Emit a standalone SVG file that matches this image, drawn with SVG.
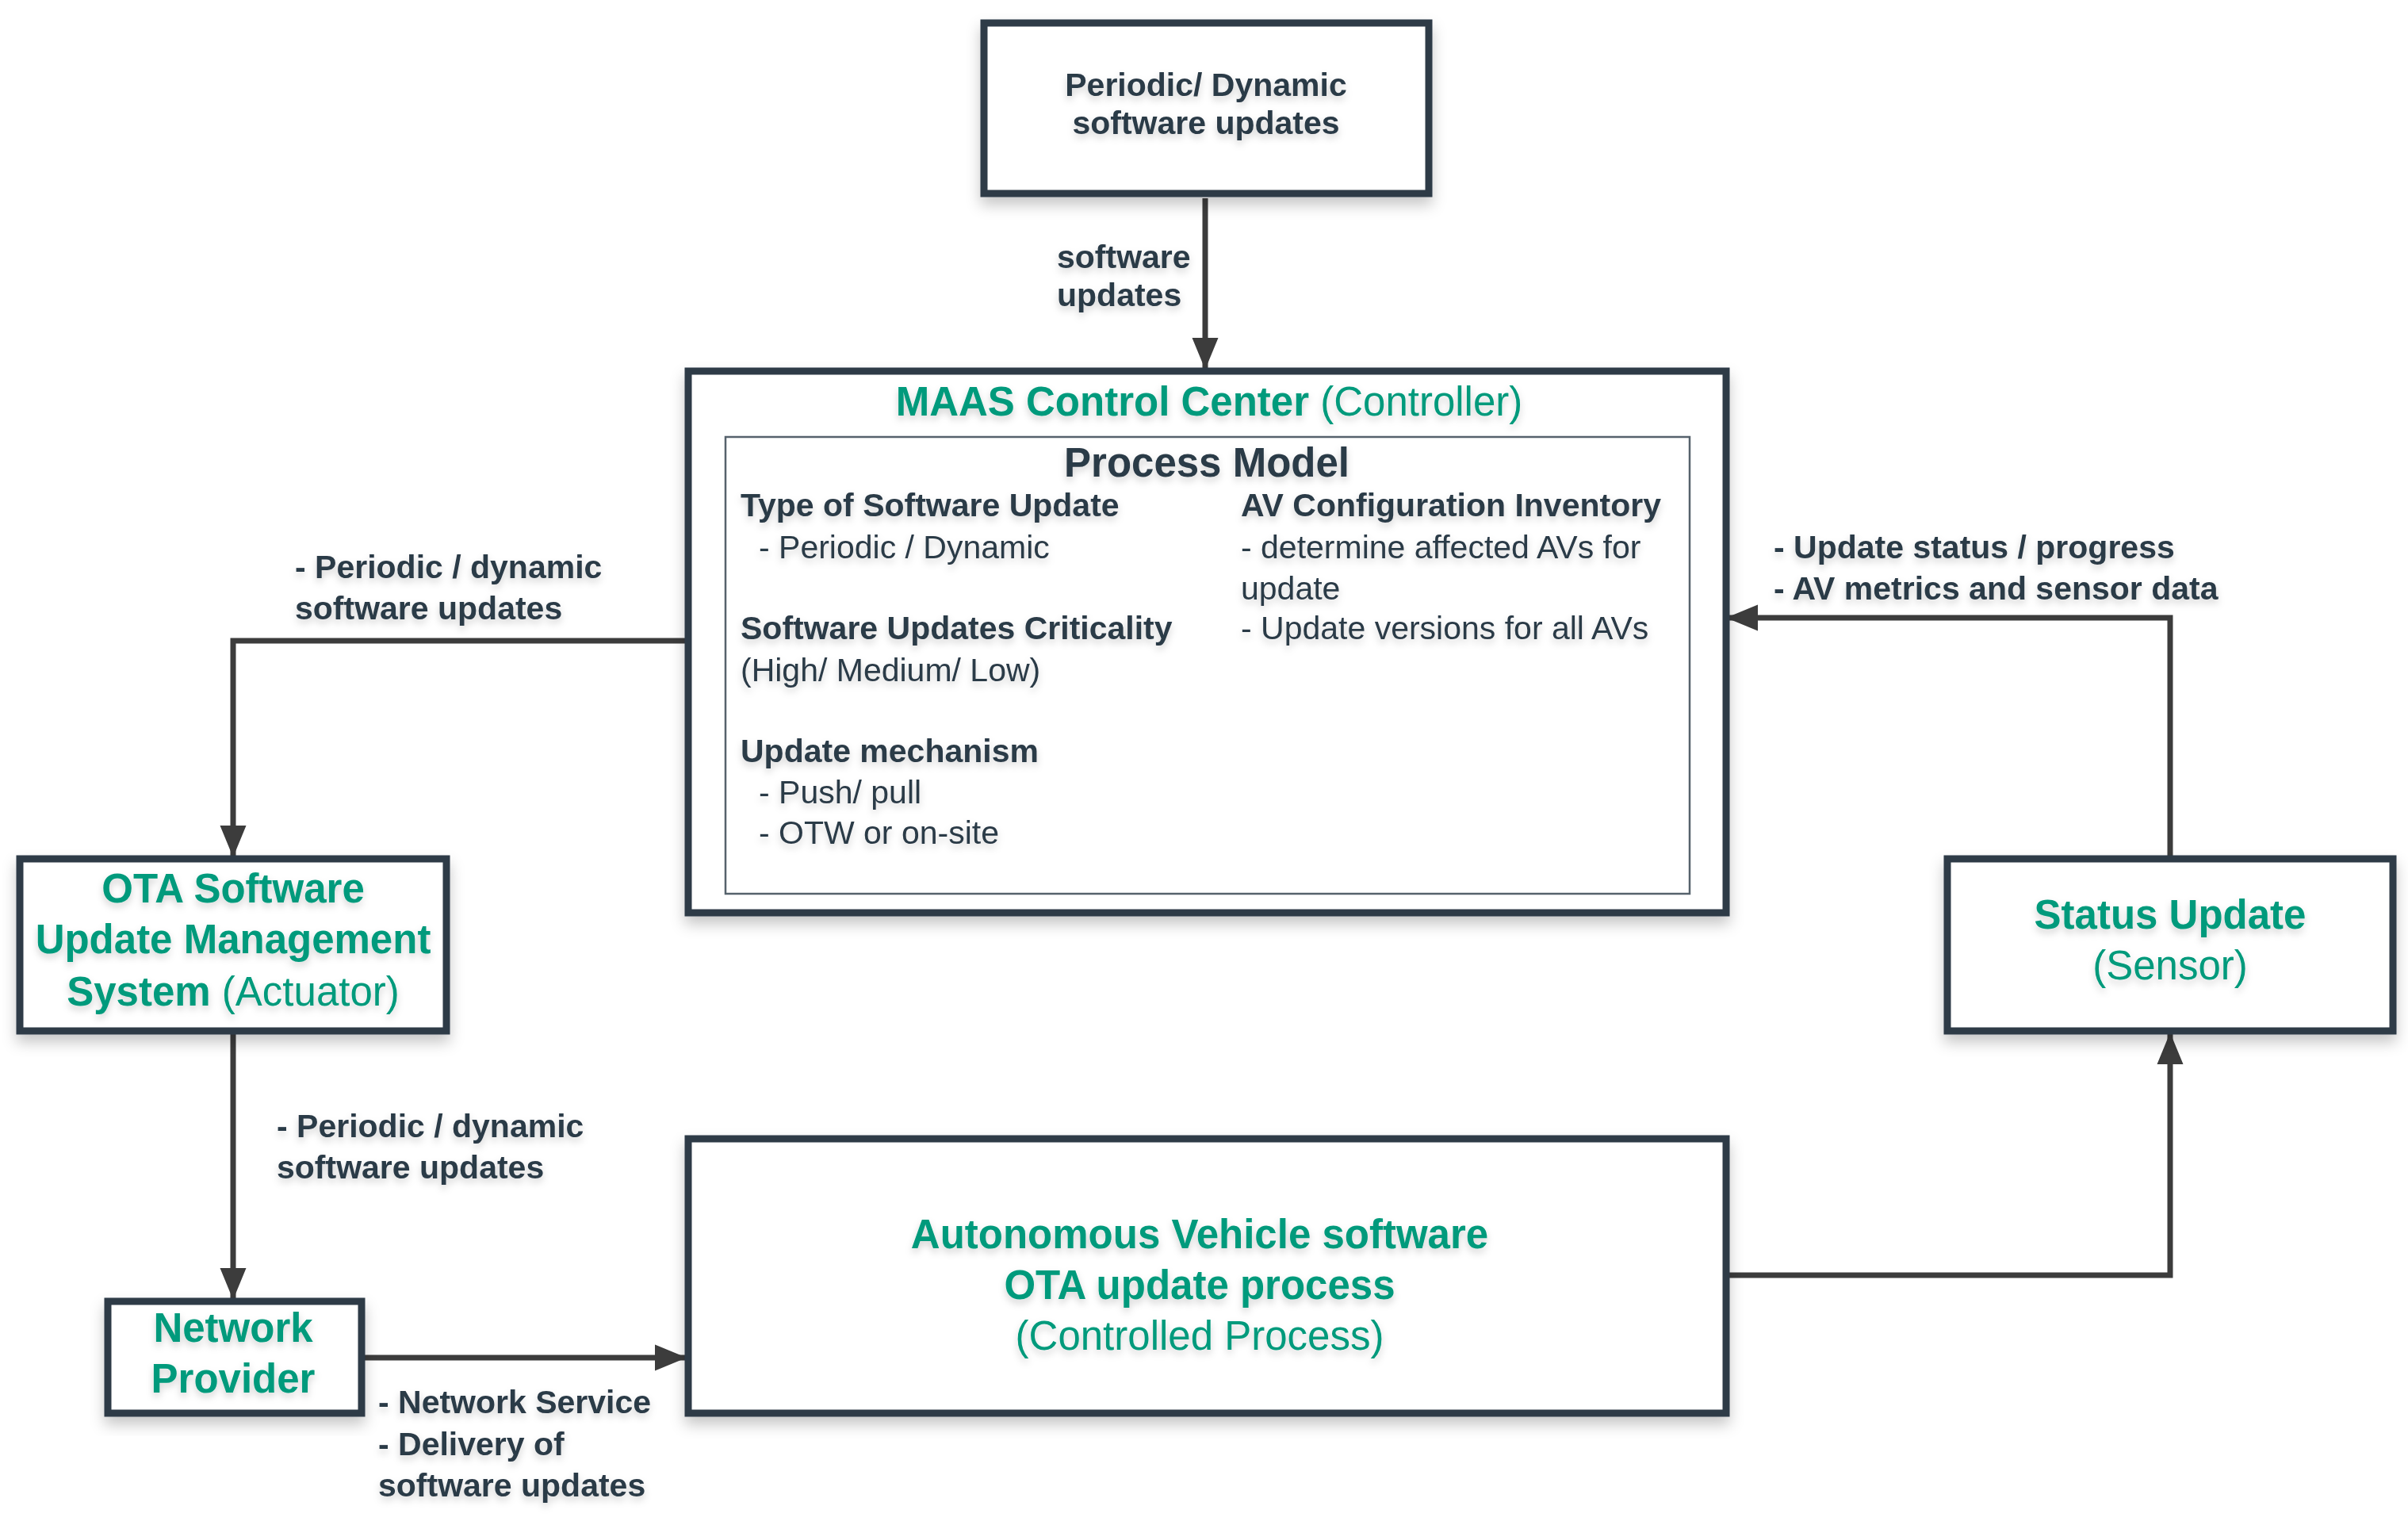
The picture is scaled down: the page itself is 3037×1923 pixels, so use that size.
<svg xmlns="http://www.w3.org/2000/svg" width="3037" height="1923" viewBox="0 0 3037 1923">
<defs>
<filter id="bs" x="-10%" y="-10%" width="120%" height="130%"><feDropShadow dx="0" dy="10" stdDeviation="9" flood-color="#000" flood-opacity="0.22"/></filter>
<filter id="ts" x="-5%" y="-20%" width="110%" height="160%"><feDropShadow dx="0" dy="5" stdDeviation="5" flood-color="#000" flood-opacity="0.18"/></filter>
<marker id="ah" markerUnits="userSpaceOnUse" markerWidth="42" markerHeight="36" viewBox="0 0 42 36" refX="40" refY="18" orient="auto"><path d="M0,1.5 L40,18 L0,34.5 Z" fill="#3c3c3c"/></marker>
</defs>
<style>
.box{fill:#fff;stroke:#2e3b47;stroke-width:9;filter:url(#bs)}
.inner{fill:#fff;stroke:#56626c;stroke-width:2.5}
.con{fill:none;stroke:#3c3c3c;stroke-width:7;marker-end:url(#ah)}
text{font-family:"Liberation Sans",Arial,sans-serif;filter:url(#ts)}
.lbl{font-size:41px;font-weight:bold;fill:#2c3a47}
.t{font-size:41px;fill:#2c3a47}
.tb{font-size:41px;font-weight:bold;fill:#2c3a47}
.g{font-size:51px;font-weight:bold;fill:#049a7b}
.gr{font-weight:normal}
.pm{font-size:51px;font-weight:bold;fill:#2c3a47}
</style>
<rect x="0" y="0" width="3037" height="1923" fill="#fff"/>

<g id="connectors">
<path class="con" d="M1520,250 L1520,466"/>
<path class="con" d="M866,808 L294,808 L294,1081"/>
<path class="con" d="M294,1302 L294,1639"/>
<path class="con" d="M457,1712 L866,1712"/>
<path class="con" d="M2177,1608 L2737,1608 L2737,1302"/>
<path class="con" d="M2737,1081 L2737,779 L2177,779"/>
<g id="conn-labels">
<text class="lbl" x="1333" y="338">software</text>
<text class="lbl" x="1333" y="386">updates</text>
<text class="lbl" x="372" y="729">- Periodic / dynamic</text>
<text class="lbl" x="372" y="781">software updates</text>
<text class="lbl" x="349" y="1434">- Periodic / dynamic</text>
<text class="lbl" x="349" y="1486">software updates</text>
<text class="lbl" x="477" y="1782">- Network Service</text>
<text class="lbl" x="477" y="1835">- Delivery of</text>
<text class="lbl" x="477" y="1887">software updates</text>
<text class="lbl" x="2237" y="704">- Update status / progress</text>
<text class="lbl" x="2237" y="756">- AV metrics and sensor data</text>
</g>
</g>

<g id="node-top">
<rect class="box" x="1241" y="29" width="561" height="215"/>
<text class="lbl" x="1521" y="121" text-anchor="middle">Periodic/ Dynamic</text>
<text class="lbl" x="1521" y="169" text-anchor="middle">software updates</text>
</g>

<g id="node-maas">
<rect class="box" x="868" y="468" width="1309" height="683"/>
<text class="g" x="1525" y="524" text-anchor="middle">MAAS Control Center<tspan class="gr"> (Controller)</tspan></text>
<rect class="inner" x="915" y="551" width="1216" height="576"/>
<text class="pm" x="1522" y="601" text-anchor="middle">Process Model</text>
<text class="tb" x="934" y="651">Type of Software Update</text>
<text class="t" x="957" y="704">- Periodic / Dynamic</text>
<text class="tb" x="934" y="806">Software Updates Criticality</text>
<text class="t" x="934" y="859">(High/ Medium/ Low)</text>
<text class="tb" x="934" y="961">Update mechanism</text>
<text class="t" x="957" y="1013">- Push/ pull</text>
<text class="t" x="957" y="1064">- OTW or on-site</text>
<text class="tb" x="1565" y="651">AV Configuration Inventory</text>
<text class="t" x="1565" y="704">- determine affected AVs for</text>
<text class="t" x="1565" y="756">update</text>
<text class="t" x="1565" y="806">- Update versions for all AVs</text>
</g>

<g id="node-ota">
<rect class="box" x="25" y="1083" width="538" height="217"/>
<text class="g" x="294" y="1138" text-anchor="middle">OTA Software</text>
<text class="g" x="294" y="1202" text-anchor="middle">Update Management</text>
<text class="g" x="294" y="1268" text-anchor="middle">System<tspan class="gr"> (Actuator)</tspan></text>
</g>

<g id="node-network">
<rect class="box" x="136" y="1641" width="320" height="141"/>
<text class="g" x="294" y="1692" text-anchor="middle">Network</text>
<text class="g" x="294" y="1756" text-anchor="middle">Provider</text>
</g>

<g id="node-av">
<rect class="box" x="868" y="1436" width="1309" height="346"/>
<text class="g" x="1513" y="1574" text-anchor="middle">Autonomous Vehicle software</text>
<text class="g" x="1513" y="1638" text-anchor="middle">OTA update process</text>
<text class="g gr" x="1513" y="1702" text-anchor="middle">(Controlled Process)</text>
</g>

<g id="node-status">
<rect class="box" x="2456" y="1083" width="562" height="217"/>
<text class="g" x="2737" y="1171" text-anchor="middle">Status Update</text>
<text class="g gr" x="2737" y="1235" text-anchor="middle">(Sensor)</text>
</g>
</svg>
